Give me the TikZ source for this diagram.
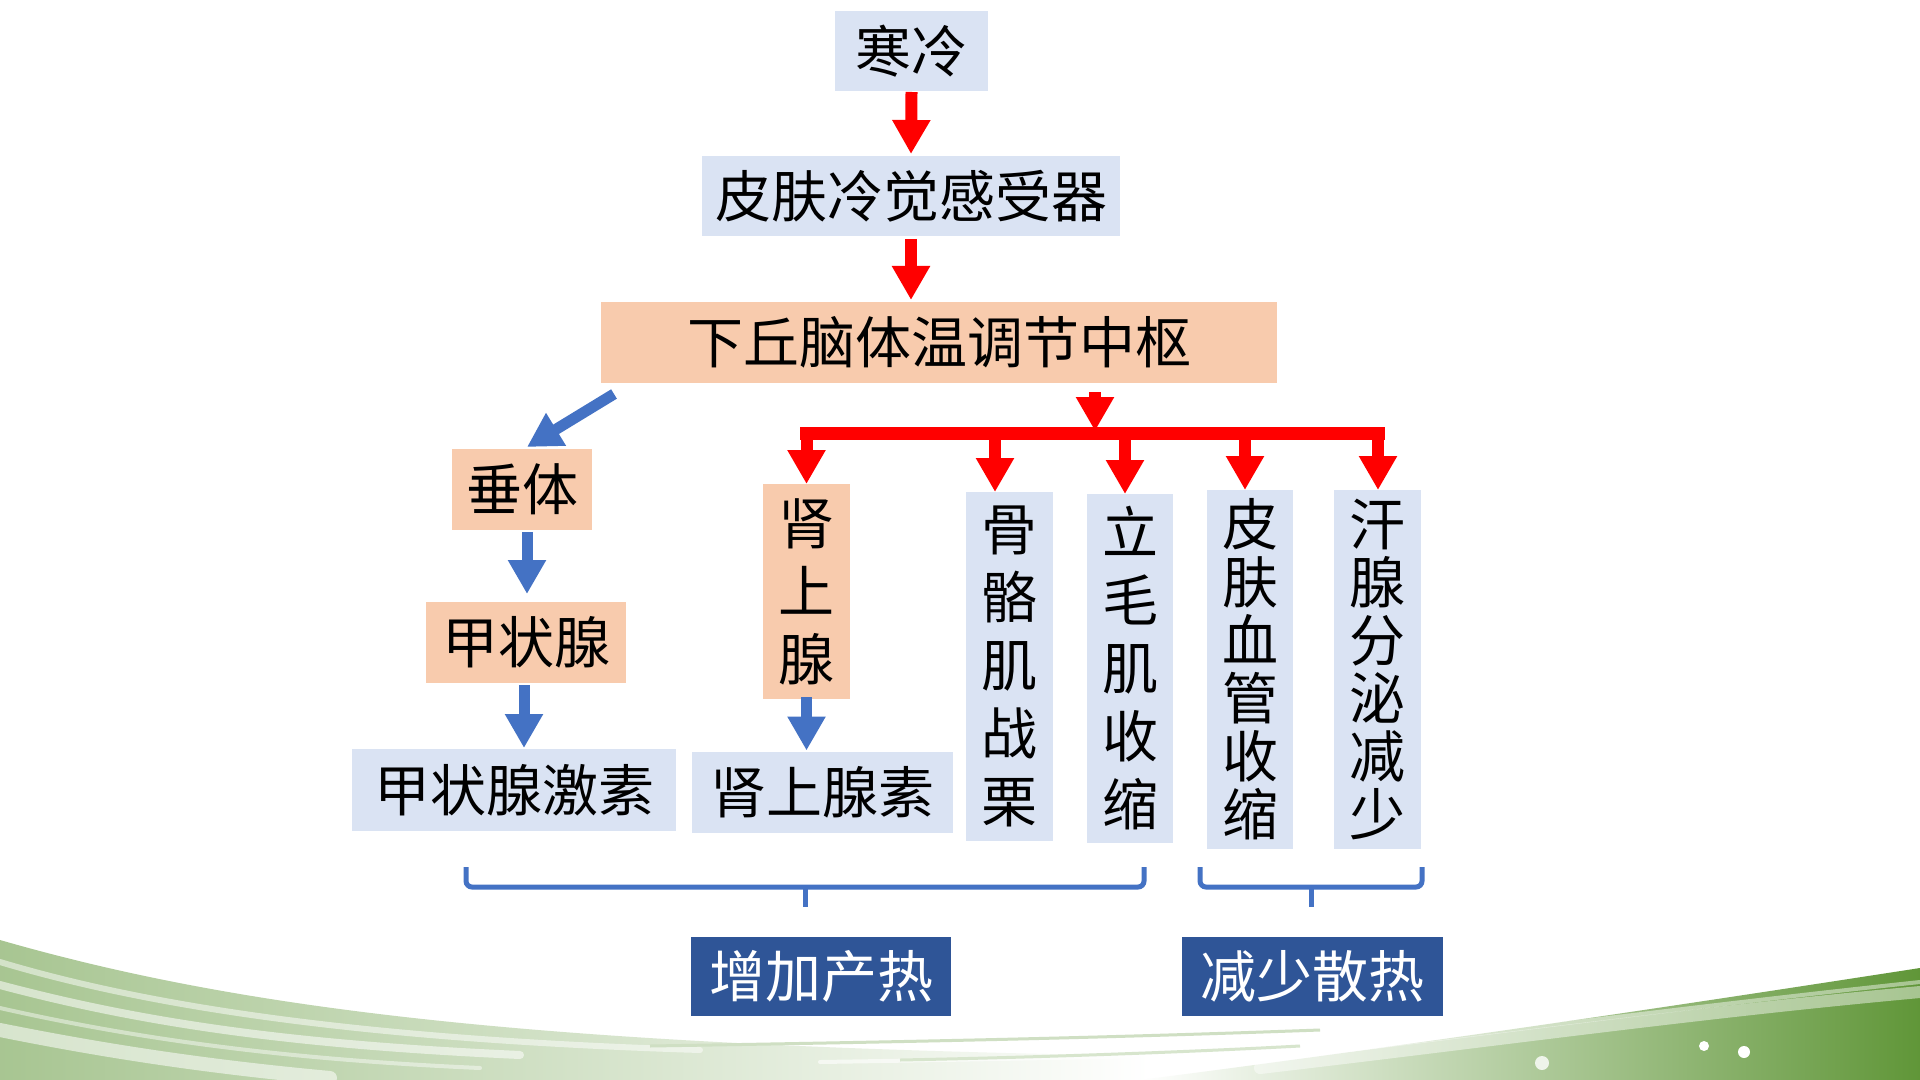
\documentclass[tikz,border=0pt]{standalone}
\usepackage{fontspec}
\setmainfont{Noto Sans CJK SC}
\usetikzlibrary{arrows.meta}
\definecolor{lblue}{HTML}{DAE3F3}
\definecolor{peach}{HTML}{F8CBAD}
\definecolor{dblue}{HTML}{2F5597}
\definecolor{ablue}{HTML}{4472C4}
\definecolor{swg}{RGB}{96,150,56}
\begin{document}
\begin{tikzpicture}[x=0.5pt,y=-0.5pt,
  box/.style={inner sep=0pt, outer sep=0pt, font=\fontsize{28}{34}\selectfont, align=center},
  bluebox/.style={box, fill=lblue},
  peachbox/.style={box, fill=peach},
  darkbox/.style={box, fill=dblue, text=white},
  redarrow/.style={draw=red, line width=6pt, -{Triangle[width=18pt,length=17pt]}},
  bluearrow/.style={draw=ablue, line width=5.5pt, -{Triangle[width=18pt,length=17pt]}},
  bracestyle/.style={draw=ablue, line width=2.5pt, rounded corners=3pt},
  streak/.style={draw=white, line cap=round}
]
\useasboundingbox (0,0) rectangle (1920,1080);
\fill[white] (0,0) rectangle (1920,1080);

% ---- decorative green swoosh ----
\shade[left color=swg!55, middle color=swg, right color=white]
  (0,940) .. controls (250,1012) and (550,1046) .. (1150,1056) -- (1150,1080) -- (0,1080) -- cycle;
\draw[streak, line width=4pt, opacity=0.55] (0,985) .. controls (150,1025) and (300,1045) .. (520,1055);
\draw[streak, line width=3pt, opacity=0.5] (0,962) .. controls (160,1010) and (380,1040) .. (700,1050);
\draw[streak, line width=7pt, opacity=0.55] (0,1030) .. controls (100,1050) and (200,1066) .. (330,1078);
\draw[streak, line width=2pt, opacity=0.45] (0,1008) .. controls (150,1042) and (300,1060) .. (480,1068);
\draw[streak, line width=2pt, opacity=0.6] (820,1062) .. controls (950,1060) and (1050,1058) .. (1150,1056);
\draw[swg!30, line width=1.5pt] (650,1046) .. controls (900,1042) and (1100,1038) .. (1320,1030);
\draw[swg!25, line width=1.5pt] (900,1060) .. controls (1000,1058) and (1150,1054) .. (1300,1046);
\shade[left color=white, middle color=swg!90, right color=swg]
  (1140,1080) .. controls (1450,1040) and (1700,1002) .. (1920,968) -- (1920,1080) -- cycle;
\draw[streak, line width=6pt, opacity=0.45] (1260,1068) .. controls (1500,1040) and (1700,1012) .. (1920,992);
\draw[streak, line width=2pt, opacity=0.45] (1350,1050) .. controls (1550,1025) and (1750,1000) .. (1920,982);
\fill[white] (1704,1046) circle (2.5pt);
\fill[white] (1744,1052) circle (3pt);
\fill[white,opacity=0.8] (1542,1063) circle (3.5pt);

% ---- boxes ----
\node[bluebox, minimum width=76.5pt, minimum height=40pt] (cold) at (911.5,51) {寒冷};
\node[bluebox, minimum width=209pt, minimum height=40pt] (recv) at (911,196) {皮肤冷觉感受器};
\node[peachbox, minimum width=338pt, minimum height=40.5pt] (hypo) at (939,342.5) {下丘脑体温调节中枢};
\node[peachbox, minimum width=70pt, minimum height=40.5pt] (pit) at (522,489.5) {垂体};
\node[peachbox, minimum width=100pt, minimum height=40.5pt] (thy) at (526,642.5) {甲状腺};
\node[bluebox, minimum width=162pt, minimum height=41pt] (thx) at (514,790) {甲状腺激素};
\node[peachbox, minimum width=43.5pt, minimum height=107.5pt] (adr) at (806.5,591.5) {肾\\上\\腺};
\node[bluebox, minimum width=130.5pt, minimum height=40.5pt] (adrh) at (822.5,792) {肾上腺素};
\node[bluebox, minimum width=43.5pt, minimum height=174.5pt] (shiv) at (1009.5,666.5) {骨\\骼\\肌\\战\\栗};
\node[bluebox, minimum width=43pt, minimum height=174.5pt] (pilo) at (1130,668.5) {立\\毛\\肌\\收\\缩};
\node[bluebox, minimum width=43pt, minimum height=179.5pt, font=\fontsize{28}{29}\selectfont] (vaso) at (1250,669.5) {皮\\肤\\血\\管\\收\\缩};
\node[bluebox, minimum width=43.5pt, minimum height=179.5pt, font=\fontsize{28}{29}\selectfont] (sweat) at (1377.5,669.5) {汗\\腺\\分\\泌\\减\\少};
\node[darkbox, minimum width=130pt, minimum height=39.5pt] (inc) at (821,976.5) {增加产热};
\node[darkbox, minimum width=130.5pt, minimum height=39.5pt] (dec) at (1312.5,976.5) {减少散热};

% ---- red arrows ----
\draw[redarrow] ([yshift=-0.5pt]cold.south) -- ([yshift=1pt]recv.north);
\draw[redarrow] ([yshift=-1.5pt]recv.south) -- ([yshift=1pt]recv.south |- hypo.north);
\coordinate (hb) at (1095,392);
\coordinate (busC) at (1095,431);
\draw[redarrow] (hb) -- (busC);
\coordinate (busL) at (806.5,433.5);
\coordinate (busR) at (1378,433.5);
\draw[red, line width=6.5pt, line cap=rect] (busL) -- (busR);
\coordinate (b1) at (995,433.5);
\coordinate (b2) at (1125,433.5);
\coordinate (b3) at (1245,433.5);
\draw[redarrow] (busL) -- (adr.north);
\draw[redarrow] (b1) -- (b1 |- shiv.north);
\draw[redarrow] (b2) -- (b2 |- pilo.north);
\draw[redarrow] (b3) -- (b3 |- vaso.north);
\draw[redarrow] (busR) -- (busR |- sweat.north);

% ---- blue arrows ----
\coordinate (dstart) at (614,394);
\draw[bluearrow] (dstart) -- ([xshift=2.5pt,yshift=1pt]pit.north);
\draw[bluearrow] ([xshift=2.5pt,yshift=-1pt]pit.south) -- ([xshift=2.5pt,yshift=4pt]pit.south |- thy.north);
\draw[bluearrow] ([xshift=-1pt,yshift=-1pt]thy.south) -- ([xshift=-1pt,yshift=0.5pt]thy.south |- thx.north);
\draw[bluearrow] ([yshift=1pt]adr.south) -- ([yshift=0.5pt]adr.south |- adrh.north);

% ---- braces ----
\coordinate (l1) at (466,867);
\coordinate (l2) at (1144,867);
\coordinate (lm) at (805,887);
\coordinate (lt) at (805,907);
\draw[bracestyle] (l1) -- (l1 |- lm) -- (l2 |- lm) -- (l2);
\draw[ablue, line width=2.5pt] (lm) -- (lt);
\coordinate (r1) at (1200,867);
\coordinate (r2) at (1422,867);
\coordinate (rm) at (1311,887);
\coordinate (rt) at (1311,907);
\draw[bracestyle] (r1) -- (r1 |- rm) -- (r2 |- rm) -- (r2);
\draw[ablue, line width=2.5pt] (rm) -- (rt);
\end{tikzpicture}
\end{document}
